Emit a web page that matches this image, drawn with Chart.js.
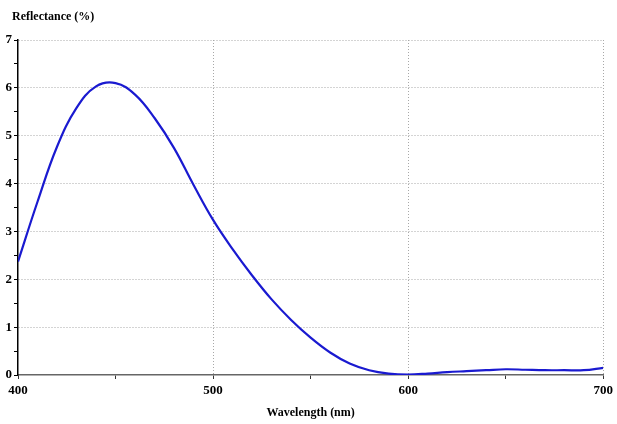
<!DOCTYPE html>
<html>
<head>
<meta charset="utf-8">
<script src="https://cdn.jsdelivr.net/npm/chart.js@4/dist/chart.umd.min.js"></script>
<style>
  html, body { margin: 0; padding: 0; background: #fff; }
  #wrap { width: 617px; height: 424px; }
</style>
</head>
<body>
<div id="wrap"><canvas id="chart" width="617" height="424"></canvas></div>
<script>
// wavelength (nm) and reflectance (%)
const wavelengths = [400, 410, 420, 430, 440, 450, 460, 470, 480, 490,
    500, 510, 520, 530, 540, 550, 560, 570, 580, 590,
    600, 610, 620, 630, 640, 650, 660, 670, 680, 690, 700];
const reflectance = [2.37, 3.62, 4.77, 5.58, 6.03, 6.10, 5.86, 5.37, 4.74, 3.97,
    3.24, 2.63, 2.08, 1.58, 1.15, 0.78, 0.47, 0.24, 0.10, 0.03,
    0.01, 0.03, 0.06, 0.08, 0.10, 0.12, 0.11, 0.10, 0.10, 0.10, 0.15];

const xTicks = [400, 500, 600, 700];
const yTicks = [0, 1, 2, 3, 4, 5, 6, 7];

const yTitle = 'Reflectance (%)';
const xTitle = 'Wavelength (nm)';

const fontFamily = '"Liberation Serif", "DejaVu Serif", serif';
const tickFont = { family: fontFamily, size: 13, weight: 'bold' };
const titleFont = { family: fontFamily, size: 12, weight: 'bold' };
const gridGray = '#a8a8a8';

var points = wavelengths.map(function (w, i) {
    return { x: w, y: reflectance[i] };
});

// unit label sitting above the y axis, top left
const topLabel = {
    id: 'topLabel',
    afterDraw: function (chart) {
        var c = chart.ctx;
        c.save();
        c.fillStyle = '#000';
        c.font = 'bold 12px ' + fontFamily;
        c.textBaseline = 'middle';
        c.textAlign = 'left';
        c.fillText(yTitle, 12, 17);
        c.restore();
    }
};

var ctx = document.getElementById('chart');
var chart = new Chart(ctx, {
    type: 'line',
    data: {
        datasets: [{
            data: points,
            borderColor: '#1a1ad0',
            borderWidth: 2.2,
            pointRadius: 0,
            tension: 0.4,
            fill: false,
        }]
    },
    options: {
        responsive: false,
        animation: false,
        layout: { padding: { left: 0, right: 11, top: 40, bottom: 0 } },
        plugins: {
            legend: { display: false },
            tooltip: { enabled: false },
            title: { display: false },
        },
        scales: {
            x: {
                type: 'linear',
                min: 400,
                max: 700,
                afterFit: function (scale) { scale.height = 49; },
                ticks: {
                    stepSize: 50,
                    color: '#000',
                    font: tickFont,
                    padding: 4,
                    maxRotation: 0,
                    autoSkip: false,
                    callback: function (v) { return xTicks.includes(v) ? String(v) : ''; },
                },
                grid: {
                    color: function (c) {
                        var v = c.tick && c.tick.value;
                        return (xTicks.includes(v) && v !== 400) ? gridGray : 'rgba(0,0,0,0)';
                    },
                    tickColor: '#333',
                    tickLength: 4,
                    lineWidth: 1,
                },
                border: { color: '#666', width: 1.5, dash: [1, 2] },
                title: {
                    display: true,
                    text: xTitle,
                    color: '#000',
                    font: titleFont,
                    padding: { top: 0, bottom: 4 },
                },
            },
            y: {
                min: 0,
                max: 7,
                afterFit: function (scale) { scale.width = 18; },
                ticks: {
                    stepSize: 0.5,
                    color: '#000',
                    font: tickFont,
                    padding: 2,
                    autoSkip: false,
                    callback: function (v) { return yTicks.includes(v) ? String(v) : ''; },
                },
                grid: {
                    color: function (c) {
                        var v = c.tick && c.tick.value;
                        return (yTicks.includes(v) && v !== 0) ? gridGray : 'rgba(0,0,0,0)';
                    },
                    tickColor: '#000',
                    tickLength: 4,
                    lineWidth: 1,
                },
                border: { color: '#000', width: 1.5, dash: [1, 2] },
            },
        },
    },
    plugins: [topLabel]
});
</script>
</body>
</html>
